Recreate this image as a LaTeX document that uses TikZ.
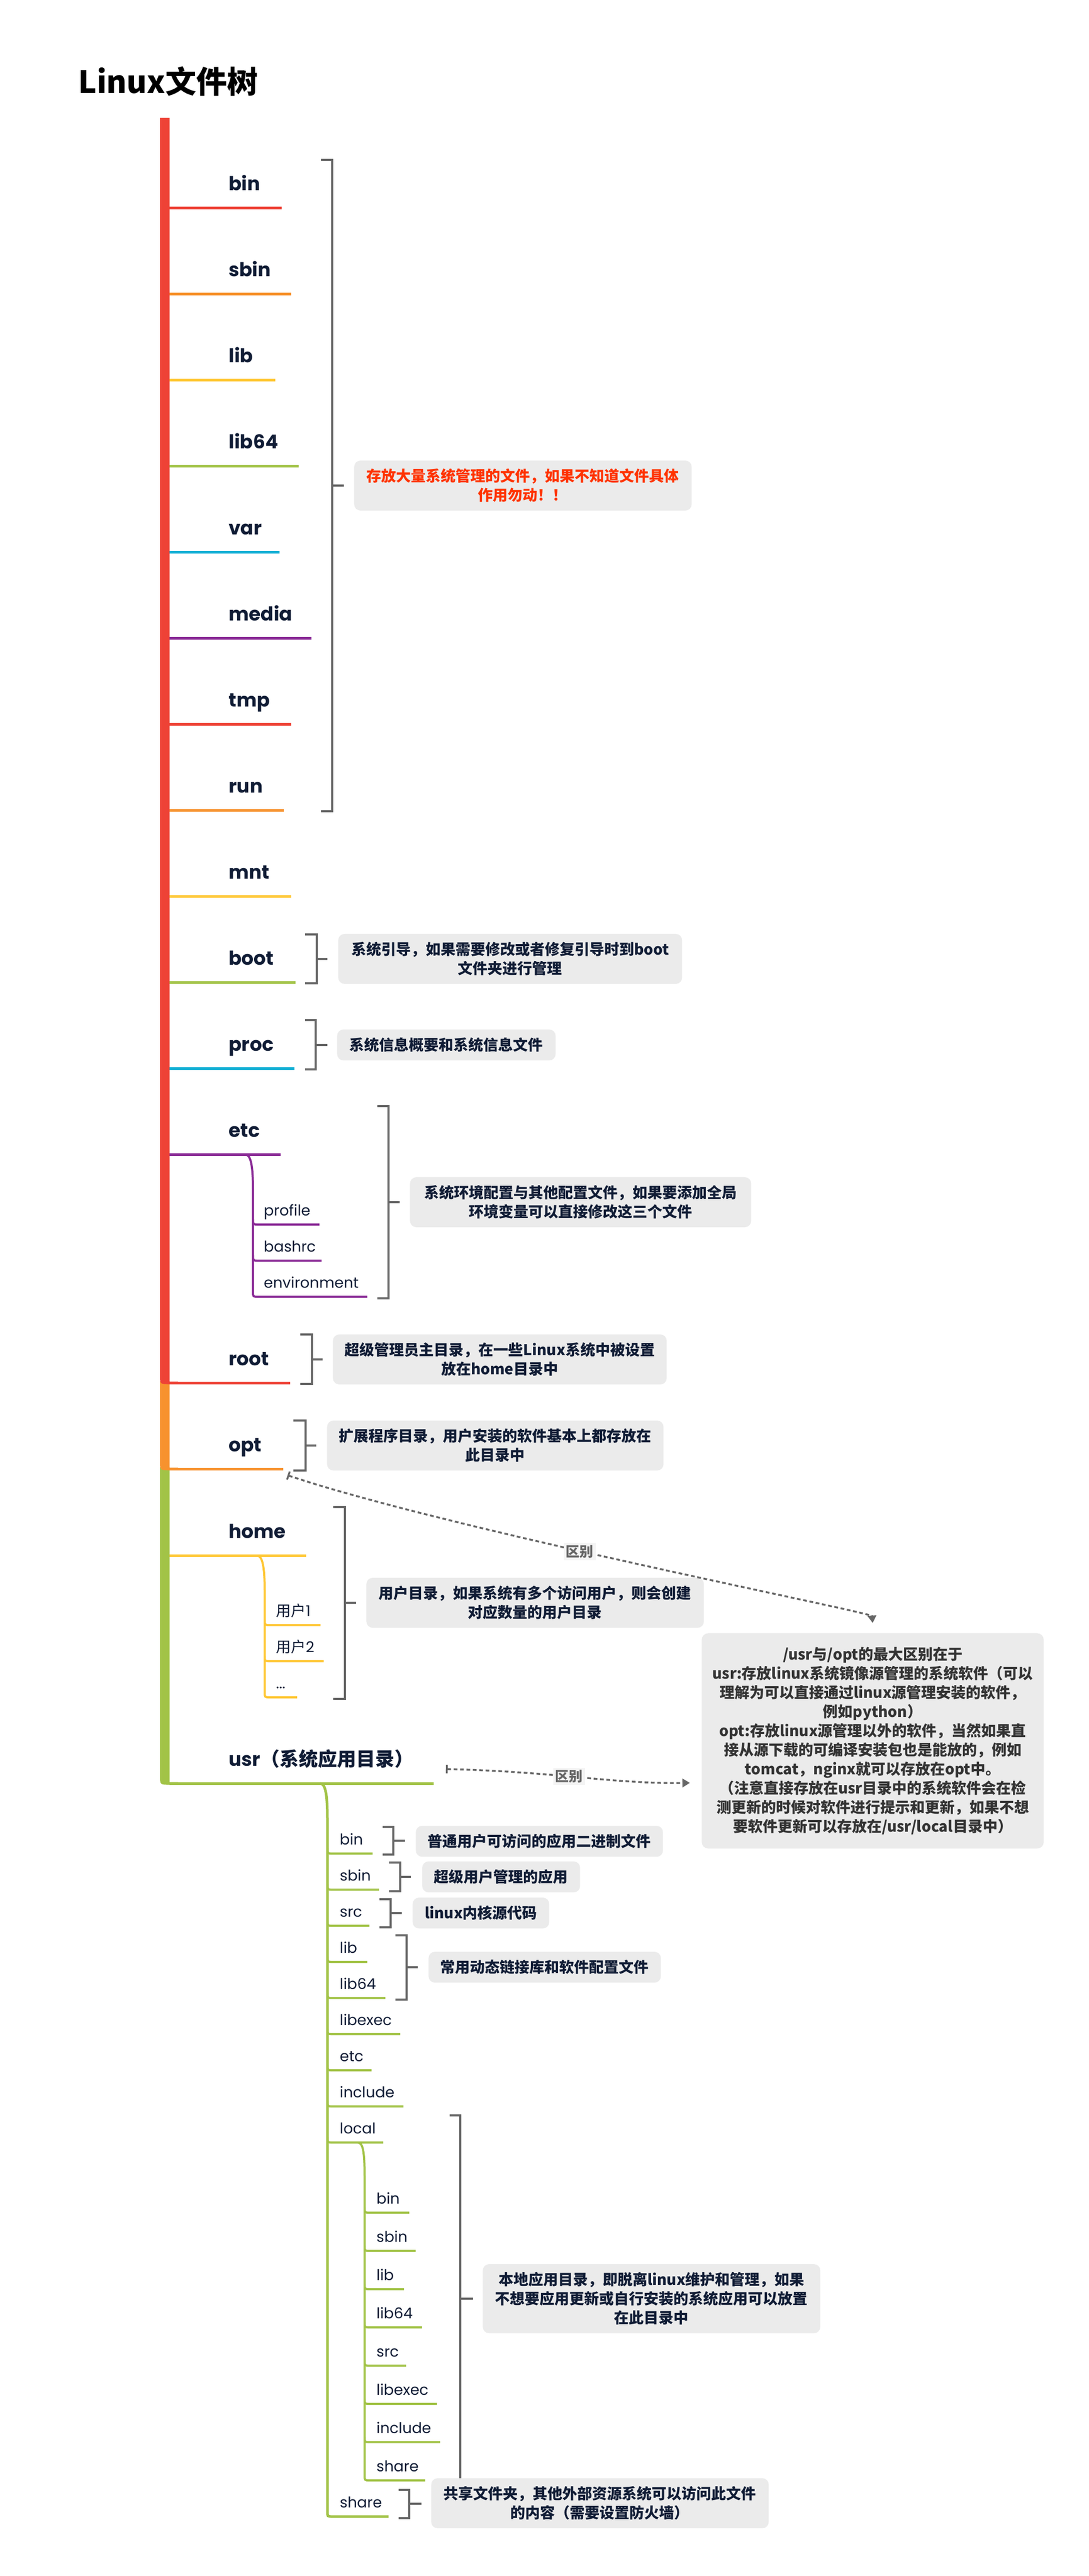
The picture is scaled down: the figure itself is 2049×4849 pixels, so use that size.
\documentclass[tikz,border=0pt]{standalone}
\usepackage{fontspec}
\setmainfont{Poppins}
\newfontfamily\cjk{Noto Sans CJK SC}
\usetikzlibrary{arrows.meta}
\definecolor{cred}{HTML}{EE4236}
\definecolor{corange}{HTML}{F7922E}
\definecolor{cyellow}{HTML}{FFC734}
\definecolor{cgreen}{HTML}{A2C347}
\definecolor{ccyan}{HTML}{10AED4}
\definecolor{cpurple}{HTML}{8A2B96}
\definecolor{cwarn}{HTML}{FF3300}
\definecolor{ink}{HTML}{101C35}
\definecolor{cdark}{HTML}{333333}
\definecolor{boxgray}{HTML}{EBEBEB}
\definecolor{brk}{HTML}{666666}
\definecolor{lblbg}{HTML}{F4F4F4}
\begin{document}
\begin{tikzpicture}[x=0.5pt,y=-0.5pt] % 1 unit = 1 px of the original
\tikzstyle{branch} = [line width=2.5pt] % main branch under a folder
\tikzstyle{twig} = [line width=2pt] % branch of a sub folder
\tikzstyle{dirname} = [anchor=base west, inner sep=0pt, text=ink, font=\fontsize{18}{22}\selectfont\bfseries]
\tikzstyle{subname} = [anchor=base west, inner sep=0pt, text=ink, font=\fontsize{14}{17}\selectfont]
\tikzstyle{note} = [anchor=west, fill=boxgray, rounded corners=6pt, align=center, inner xsep=10pt, inner ysep=7.75pt, text=ink, font=\cjk\fontsize{14}{18}\selectfont\bfseries]
\tikzstyle{brace} = [draw=brk, line width=2pt] % bracket to a note
\tikzstyle{diff} = [draw=brk, line width=1.75pt, dash pattern=on 3.5pt off 2.5pt, {Bar[width=8pt]}-{Triangle[length=7pt,width=8pt]}]
\tikzstyle{difflabel} = [fill=lblbg, inner sep=2pt, text=brk, font=\cjk\fontsize{13}{15}\selectfont\bfseries]

\fill[white] (0,0) rectangle (2049,4849);
\useasboundingbox (0,0) rectangle (2049,4849);

\node[anchor=west, inner sep=0pt, font=\cjk\fontsize{29}{34}\selectfont\bfseries] (title) at (147,153) {Linux文件树};

% trunk
\fill[cgreen] (301,2762) -- (301,3342) .. controls (301,3359.5) .. (319,3359.5) -- (335,3359.5) -- (335,3354.5) -- (319,3354.5) -- (319,2762) -- cycle;
\fill[corange] (301,2600) -- (301,2750) .. controls (301,2767.5) .. (319,2767.5) -- (335,2767.5) -- (335,2762.5) -- (319,2762.5) -- (319,2600) -- cycle;
\fill[cred] (301,222) -- (301,2588) .. controls (301,2605.5) .. (319,2605.5) -- (335,2605.5) -- (335,2600.5) -- (319,2600.5) -- (319,222) -- cycle;

\foreach \n/\y/\e/\c in {bin/391/530/cred, sbin/553/548/corange, lib/715/518/cyellow, lib64/877/562/cgreen,
  var/1039/526/ccyan, media/1201/586/cpurple, tmp/1363/548/cred, run/1525/534/corange, mnt/1687/548/cyellow,
  boot/1849/556/cgreen, proc/2011/554/ccyan, etc/2173/528/cpurple, root/2603/546/cred, opt/2765/533/corange,
  home/2928/576/cyellow}
{
  \draw[branch, \c] (319,\y) -- (\e,\y);
  \node[dirname] (\n) at (430,\y-33) {\n};
}
\draw[branch, cgreen] (319,3357) -- (816,3357);
\node[dirname] (usr) at (430,3324) {usr{\cjk （系统应用目录）}};

% etc
\draw[twig, cpurple] (461,2173) .. controls (471,2173) and (476,2190) .. (476,2240) -- (476,2431) .. controls (476,2441) .. (486,2441) -- (691,2441);
\foreach \y/\e in {2305/601, 2373/605}
  \draw[twig, cpurple] (476,\y-10) .. controls (476,\y) .. (486,\y) -- (\e,\y);
\foreach \n/\y in {profile/2305, bashrc/2373, environment/2441}
  \node[subname] (\n) at (496,\y-17) {\n};

% home
\draw[twig, cyellow] (483,2928) .. controls (493,2928) and (498,2945) .. (498,2995) -- (498,3185) .. controls (498,3195) .. (508,3195) -- (559,3195);
\foreach \y/\e in {3059/603, 3127/609}
  \draw[twig, cyellow] (498,\y-10) .. controls (498,\y) .. (508,\y) -- (\e,\y);
\node[subname] (user1) at (519,3042) {{\cjk 用户}1};
\node[subname] (user2) at (519,3110) {{\cjk 用户}2};
\node[subname] (users) at (519,3178) {...};

% usr
\draw[twig, cgreen, line width=2.5pt] (602,3357) .. controls (612,3357) and (616,3375) .. (616,3425) -- (616,4727) .. controls (616,4737) .. (626,4737) -- (731,4737);
\foreach \n/\t/\y/\e in {ubin/bin/3489/701, usbin/sbin/3557/713, usrc/src/3625/695, ulib/lib/3693/691,
  ulib64/lib64/3761/725, ulibexec/libexec/3829/753, uetc/etc/3897/699, uinclude/include/3965/759, ulocal/local/4033/721}
{
  \draw[twig, cgreen] (616,\y-10) .. controls (616,\y) .. (626,\y) -- (\e,\y);
  \node[subname] (\n) at (639,\y-17) {\t};
}
\node[subname] (ushare) at (639,4720) {share};

% usr/local
\draw[twig, cgreen] (673,4033) .. controls (683,4033) and (686,4050) .. (686,4100) -- (686,4659) .. controls (686,4669) .. (696,4669) -- (800,4669);
\foreach \n/\t/\y/\e in {lbin/bin/4165/770, lsbin/sbin/4237/782, llib/lib/4309/760, llib64/lib64/4381/794,
  lsrc/src/4453/764, llibexec/libexec/4525/822, linclude/include/4597/828}
{
  \draw[twig, cgreen] (686,\y-10) .. controls (686,\y) .. (696,\y) -- (\e,\y);
  \node[subname] (\n) at (708,\y-17) {\t};
}
\node[subname] (lshare) at (708,4652) {share};

% brackets
\draw[brace] (604,301) -- (625,301) -- (625,1527) -- (604,1527) (625,914) -- (647,914);
\draw[brace] (574,1759) -- (596,1759) -- (596,1851) -- (574,1851) (596,1805) -- (616,1805);
\draw[brace] (574,1920) -- (594,1920) -- (594,2013) -- (574,2013) (594,1967) -- (616,1967);
\draw[brace] (710,2082) -- (731,2082) -- (731,2444) -- (710,2444) (731,2263) -- (752,2263);
\draw[brace] (565,2512) -- (587,2512) -- (587,2605) -- (565,2605) (587,2559) -- (607,2559);
\draw[brace] (552,2674) -- (575,2674) -- (575,2768) -- (552,2768) (575,2721) -- (595,2721);
\draw[brace] (627,2837) -- (649,2837) -- (649,3198) -- (627,3198) (649,3017) -- (670,3017);
\draw[brace] (720,3439) -- (740,3439) -- (740,3491) -- (720,3491) (740,3465) -- (762,3465);
\draw[brace] (732,3506) -- (753,3506) -- (753,3560) -- (732,3560) (753,3533) -- (773,3533);
\draw[brace] (714,3575) -- (735,3575) -- (735,3628) -- (714,3628) (735,3601) -- (756,3601);
\draw[brace] (744,3643) -- (765,3643) -- (765,3764) -- (744,3764) (765,3703) -- (786,3703);
\draw[brace] (846,3982) -- (866,3982) -- (866,4669) -- (846,4669) (866,4327) -- (890,4327);
\draw[brace] (750,4687) -- (770,4687) -- (770,4740) -- (750,4740) (770,4713) -- (793,4713);

% notes
\node[note, minimum width=317.5pt, text=cwarn] (nsys) at (666,914) {存放大量系统管理的文件，如果不知道文件具体\\作用勿动！！};
\node[note, minimum width=323.5pt] (nboot) at (636,1805) {系统引导，如果需要修改或者修复引导时到boot\\文件夹进行管理};
\node[note, minimum width=205.5pt] (nproc) at (634,1967) {系统信息概要和系统信息文件};
\node[note, minimum width=321pt] (netc) at (771,2263) {系统环境配置与其他配置文件，如果要添加全局\\环境变量可以直接修改这三个文件};
\node[note, minimum width=314pt] (nroot) at (626,2559) {超级管理员主目录，在一些Linux系统中被设置\\放在home目录中};
\node[note, minimum width=316.5pt] (nopt) at (615,2721) {扩展程序目录，用户安装的软件基本上都存放在\\此目录中};
\node[note, minimum width=317.5pt] (nhome) at (689,3017) {用户目录，如果系统有多个访问用户，则会创建\\对应数量的用户目录};
\node[note, minimum width=320.5pt, inner ysep=13pt, text=cdark] (big) at (1320,3277) {/usr与/opt的最大区别在于\\usr:存放linux系统镜像源管理的系统软件（可以\\理解为可以直接通过linux源管理安装的软件，\\例如python）\\opt:存放linux源管理以外的软件，当然如果直\\接从源下载的可编译安装包也是能放的，例如\\tomcat，nginx就可以存放在opt中。\\（注意直接存放在usr目录中的系统软件会在检\\测更新的时候对软件进行提示和更新，如果不想\\要软件更新可以存放在/usr/local目录中）};
\node[note, minimum width=232.5pt] (nubin) at (782,3466) {普通用户可访问的应用二进制文件};
\node[note, minimum width=148.5pt] (nusbin) at (794,3533) {超级用户管理的应用};
\node[note, minimum width=128.5pt] (nusrc) at (776,3601) {linux内核源代码};
\node[note, minimum width=218.5pt] (nulib) at (806,3703) {常用动态链接库和软件配置文件};
\node[note, minimum width=317.5pt] (nlocal) at (908,4327) {本地应用目录，即脱离linux维护和管理，如果\\不想要应用更新或自行安装的系统应用可以放置\\在此目录中};
\node[note, minimum width=317.5pt] (nshare) at (811,4712) {共享文件夹，其他外部资源系统可以访问此文件\\的内容（需要设置防火墙）};

% usr vs opt
\coordinate (optfoot) at (541,2777);
\coordinate (bigtop) at ([yshift=9.5pt]big.north);
\coordinate (usrfoot) at (839,3330);
\coordinate (bigside) at (1298,3356);
\draw[diff] (optfoot) .. controls (850,2880) and (1640,3035) .. (bigtop) node[pos=0.42, difflabel] (diff1) {区别};
\draw[diff] (usrfoot) .. controls (1050,3335) and (1150,3358) .. (bigside) node[pos=0.45, difflabel] (diff2) {区别};
\end{tikzpicture}
\end{document}
